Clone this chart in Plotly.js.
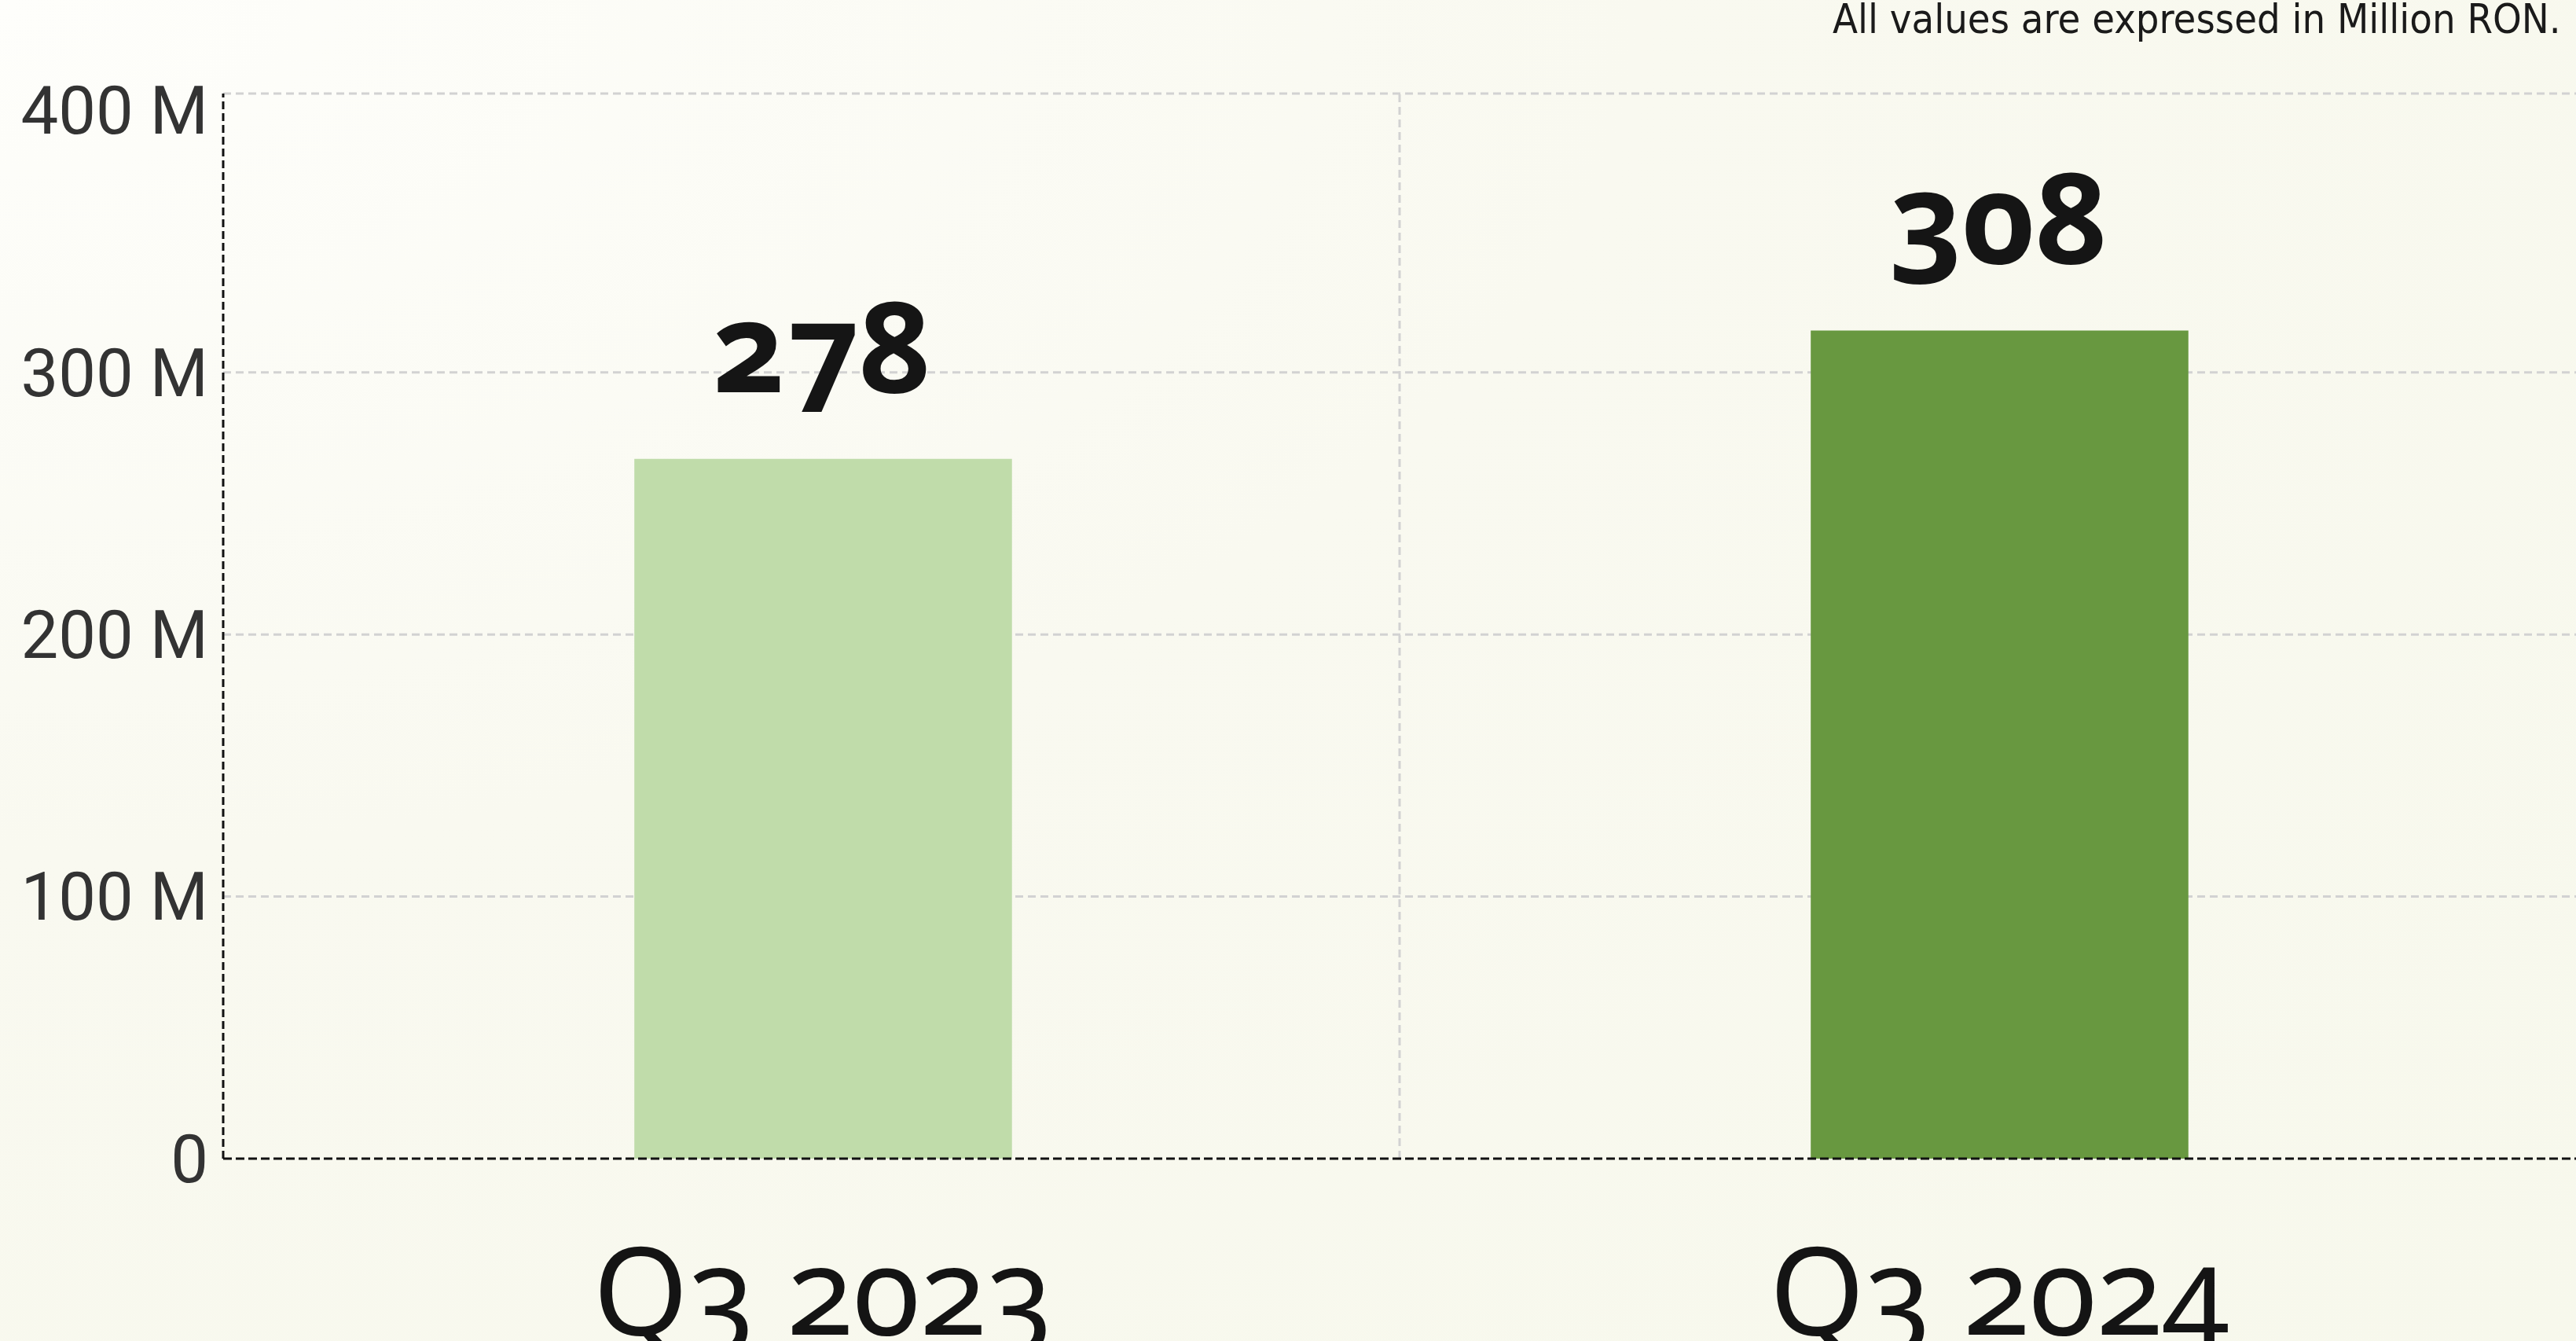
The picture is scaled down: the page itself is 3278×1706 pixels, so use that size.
<!DOCTYPE html>
<html>
<head>
<meta charset="utf-8">
<script src="https://cdn.plot.ly/plotly-3.0.1.min.js"></script>
<style>
  html, body { margin: 0; padding: 0; width: 3278px; height: 1706px; overflow: hidden; }
  body { background: radial-gradient(ellipse at 0% 0%, #fefefb 0%, #f9f9f0 45%, #f7f8ec 100%); }
  #chart { width: 3278px; height: 1706px; }
  .xtick text, .annotation-text {
    font-variant-numeric: oldstyle-nums !important;
    font-feature-settings: "onum" 1 !important;
  }
</style>
</head>
<body>
<div id="chart"></div>
<script>
// Data
const categories = ['Q3 2023', 'Q3 2024'];
const values = [267, 316];            // bar heights, million RON
const valueLabels = ['278', '308'];   // labels printed above bars
const barColors = ['#c0dcaa', '#689840'];
const yTickVals = [0, 100, 200, 300, 400];
const yTickText = ['0', '100 M', '200 M', '300 M', '400 M'];
const yMax = 406.4;
const note = 'All values are expressed in Million RON.';

const gridStyle = { color: '#d2d2d2', width: 3, dash: '10px,6px' };

const trace = {
  type: 'bar',
  x: categories,
  y: values,
  width: 0.321,
  marker: { color: barColors, line: { width: 0 } },
  hoverinfo: 'skip'
};

const annotations = categories.map((c, i) => ({
  x: c, y: values[i], xref: 'x', yref: 'y',
  text: '<b>' + valueLabels[i] + '</b>',
  showarrow: false, xanchor: 'center', yanchor: 'bottom', yshift: 36,
  font: { family: 'Noto Sans, sans-serif', size: 160, color: '#151515' }
}));
annotations.push({
  x: 0.9943, y: 1.07, xref: 'paper', yref: 'paper',
  text: note, showarrow: false, xanchor: 'right', yanchor: 'middle',
  font: { family: 'Liberation Sans Narrow, DejaVu Sans Condensed, sans-serif', size: 52, color: '#1a1a1a' }
});

// horizontal gridlines at inner ticks, frame top line, category divider
const shapes = yTickVals
  .filter(v => v > yTickVals[0] && v < yTickVals[yTickVals.length - 1])
  .map(v => ({ type: 'line', layer: 'below', xref: 'paper', yref: 'y', x0: 0, x1: 1, y0: v, y1: v, line: gridStyle }));
shapes.push({ type: 'line', layer: 'below', xref: 'paper', yref: 'paper', x0: 0, x1: 1, y0: 1, y1: 1, line: gridStyle });
shapes.push({ type: 'line', layer: 'below', xref: 'paper', yref: 'paper', x0: 0.5, x1: 0.5, y0: 0, y1: 1, line: gridStyle });
shapes.push({ type: 'line', xref: 'paper', yref: 'paper', x0: 0, x1: 1, y0: 0, y1: 0,
  line: { color: '#111111', width: 3, dash: '11px,5px' } });
shapes.push({ type: 'line', xref: 'paper', yref: 'paper', x0: 0, x1: 0, y0: 0, y1: 1,
  line: { color: '#111111', width: 3, dash: '10px,5px' } });

const layout = {
  width: 3278, height: 1706,
  margin: { l: 284, r: 0, t: 119, b: 232, pad: 0 },
  paper_bgcolor: 'rgba(0,0,0,0)',
  plot_bgcolor: 'rgba(0,0,0,0)',
  showlegend: false,
  xaxis: {
    type: 'category',
    range: [-0.51, 1.49],
    showgrid: false,
    showline: false, zeroline: false, ticks: '',
    ticklabelstandoff: 68,
    tickfont: { family: 'Noto Sans, sans-serif', size: 155, color: '#141414' }
  },
  yaxis: {
    range: [0, yMax],
    tickvals: yTickVals, ticktext: yTickText,
    showgrid: false,
    showline: false, zeroline: false, ticks: '',
    ticklabelstandoff: 18,
    tickfont: { family: 'Roboto, sans-serif', size: 85, color: '#333333' }
  },
  shapes: shapes,
  annotations: annotations
};

Plotly.newPlot('chart', [trace], layout, { staticPlot: true, displayModeBar: false });
</script>
</body>
</html>
